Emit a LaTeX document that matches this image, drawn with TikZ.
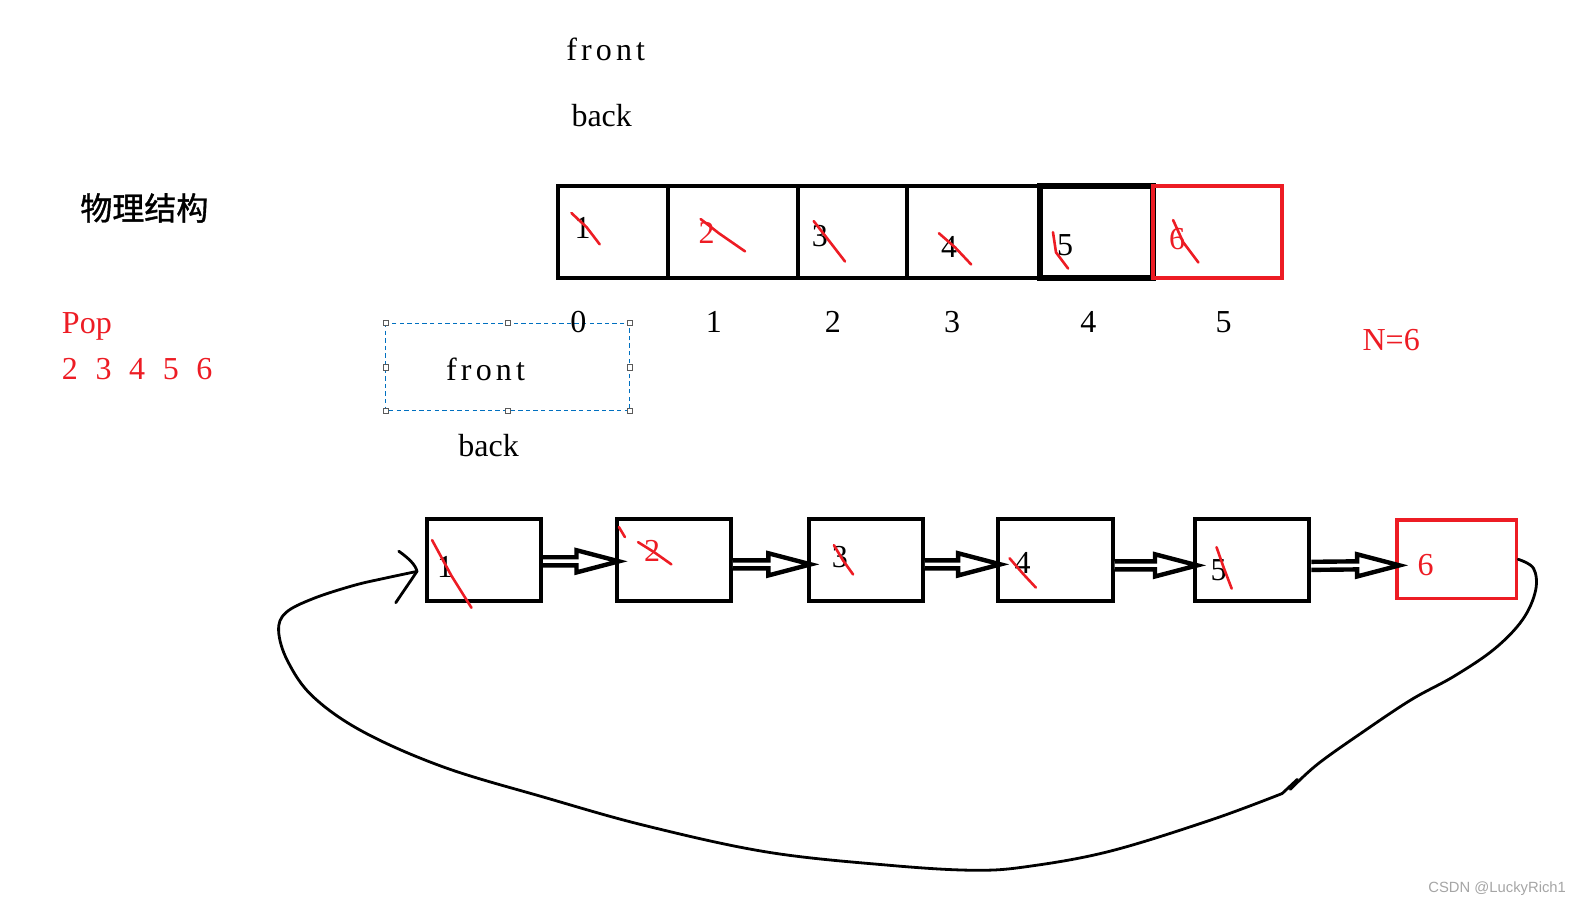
\documentclass[tikz,border=0pt]{standalone}
\usepackage{fontspec}
\setmainfont{Liberation Serif}
\newfontfamily\cjk[FakeBold=1.2]{Noto Sans CJK SC}
\newfontfamily\frontfont[LetterSpace=13]{Liberation Serif}
\newfontfamily\wmfont{Liberation Sans}
\usetikzlibrary{calc}
\definecolor{pred}{RGB}{237,28,36}
\definecolor{selblue}{RGB}{0,112,192}
\definecolor{wmgray}{RGB}{165,165,165}
\definecolor{hgray}{RGB}{90,90,90}
\newcommand\harr[3]{%
  \draw[harrow] ($(#1.east)+(0,#3-4)$) -- ($(#2.west)+(-38,#3-4)$) -- ($(#2.west)+(-38,#3-11)$) -- ($(#2.west)+(4,#3)$) -- ($(#2.west)+(-38,#3+11)$) -- ($(#2.west)+(-38,#3+4)$) -- ($(#1.east)+(0,#3+4)$);}
\begin{document}
\begin{tikzpicture}[x=0.5048pt,y=-0.5048pt,
  font=\fontsize{16}{19}\selectfont,
  cell/.style={draw=black, line width=2pt, inner sep=0pt, minimum height=46pt},
  rcell/.style={draw=pred, line width=1.8pt, inner sep=0pt},
  lbl/.style={inner sep=0pt},
  rlbl/.style={inner sep=0pt, text=pred},
  strike/.style={draw=pred, line width=1.3pt, line cap=round},
  harrow/.style={draw=black, line width=2.2pt, fill=white, line join=miter},
  loop/.style={draw=black, line width=1.4pt, line cap=round, line join=round},
  handle/.style={draw=hgray, fill=white, line width=0.5pt, minimum size=2.6pt, inner sep=0pt}]
\useasboundingbox (0,0) rectangle (1568,897);

% top labels
\node[lbl] (front1) at (600,49) {\frontfont front};
\node[lbl] (back1) at (596,114) {back};
\node[lbl] (title) at (143,206) {\cjk 物理结构};

% array cells
\node[cell, minimum width=109*0.5048pt] (c1) at (607.5,230) {};
\node[cell, minimum width=128*0.5048pt] (c2) at (726,230) {};
\node[cell, minimum width=108*0.5048pt] (c3) at (844,230) {};
\node[cell, minimum width=132*0.5048pt] (c4) at (964,230) {};
\node[cell, line width=3pt, minimum width=112*0.5048pt] (c5) at (1086,230) {};
\node[rcell, minimum width=128*0.5048pt, minimum height=46pt] (c6) at (1206,230) {};

\node[lbl] (v1) at (577,226) {1};
\node[rlbl] (v2) at (700,231) {2};
\node[lbl] (v3) at (812,234) {3};
\node[lbl] (v4) at (940,245) {4};
\node[lbl] (v5) at (1055,243) {5};
\node[rlbl] (v6) at (1166,237) {6};

\draw[strike] (566,211) -- (581,225) -- (594,242);
\draw[strike] (694,217) -- (712,231) -- (738,249);
\draw[strike] (806,219) -- (820,237) -- (837,259);
\draw[strike] (930,231) -- (946,245) -- (962,262);
\draw[strike] (1043,230) -- (1046,250) -- (1058,266);
\draw[strike] (1162,218) -- (1172,240) -- (1187,260);

% indices
\node[lbl] (i1) at (707,319) {1};
\node[lbl] (i2) at (825,319) {2};
\node[lbl] (i3) at (943,319) {3};
\node[lbl] (i4) at (1078,319) {4};
\node[lbl] (i5) at (1212,319) {5};

% left red text
\node[rlbl, anchor=west] (pop) at (61,323) {Pop};
\node[rlbl, anchor=west] (popseq) at (61,366) {2\hspace{0.55em}3\hspace{0.55em}4\hspace{0.55em}5\hspace{0.55em}6};
\node[rlbl] (n6) at (1378,337) {N=6};

% selection box
\draw[selblue, dashed, dash pattern=on 2.2pt off 1.6pt, line width=0.5pt] (382,320) rectangle (624,407);
\foreach \p in {(382,320),(503,320),(624,320),(382,364),(624,364),(382,407),(503,407),(624,407)}
  \node[handle] at \p {};
\node[lbl] (i0) at (573,319) {0};
\node[lbl] (front2) at (481,366) {\frontfont front};
\node[lbl] (back2) at (484,441) {back};

% linked list
\node[cell, minimum width=113*0.5048pt, minimum height=81*0.5048pt] (b1) at (479.5,554.5) {};
\node[cell, minimum width=113*0.5048pt, minimum height=81*0.5048pt] (b2) at (667.5,554.5) {};
\node[cell, minimum width=113*0.5048pt, minimum height=81*0.5048pt] (b3) at (857.5,554.5) {};
\node[cell, minimum width=113*0.5048pt, minimum height=81*0.5048pt] (b4) at (1045.5,554.5) {};
\node[cell, minimum width=113*0.5048pt, minimum height=81*0.5048pt] (b5) at (1240.5,554.5) {};
\node[rcell, minimum width=118*0.5048pt, minimum height=78*0.5048pt] (b6) at (1443,554) {};

\node[lbl] (w1) at (441,562) {1};
\node[rlbl] (w2) at (646,546) {2};
\node[lbl] (w3) at (832,552) {3};
\node[lbl] (w4) at (1013,558) {4};
\node[lbl] (w5) at (1207,565) {5};
\node[rlbl] (w6) at (1412,560) {6};

\draw[strike] (428,535) -- (447,570) -- (467,602);
\draw[strike] (613,522) -- (619,532);
\draw[strike] (632,537) -- (648,547) -- (665,559);
\draw[strike] (826,540) -- (835,555) -- (845,569);
\draw[strike] (1000,553) -- (1013,568) -- (1026,582);
\draw[strike] (1205,542) -- (1212,562) -- (1220,583);

\harr{b1}{b2}{1.5}
\harr{b2}{b3}{4.5}
\harr{b3}{b4}{4.5}
\harr{b4}{b5}{5.5}
\harr{b5}{b6}{6}

% loop back curve
\coordinate (tip) at (413,566);
\draw[loop] plot[smooth, tension=0.6] coordinates {(b6.east) (1519,563) (1521,585) (1508,614) (1480,643) (1440,670) (1398,693) (1350,725) (1305,757) (1278,782)};
\draw[loop] (1285,772) -- (1270,786);
\draw[loop] plot[smooth, tension=0.6] coordinates {(1270,786) (1200,812) (1100,843) (1020,858) (965,862) (880,857) (760,844) (640,818) (540,790) (440,760) (360,725) (310,690) (285,655) (276,625) (283,607) (310,593) (350,580) (380,573) (tip)};
\draw[loop] (395,546) .. controls (405,553) and (412,560) .. (tip) .. controls (405,578) and (398,588) .. (392,597);

% watermark
\node[lbl, text=wmgray, font=\wmfont\fontsize{7.4}{9}\selectfont] (wm) at (1483,880) {CSDN @LuckyRich1};
\end{tikzpicture}
\end{document}
